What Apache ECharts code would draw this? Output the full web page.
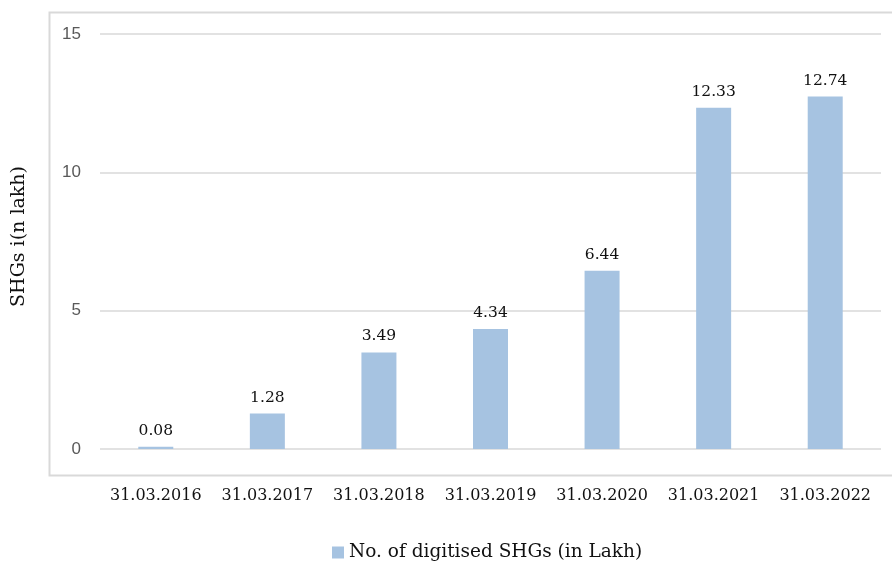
<!DOCTYPE html>
<html>
<head>
<meta charset="utf-8">
<script src="https://cdn.jsdelivr.net/npm/echarts@6/dist/echarts.min.js"></script>
<style>
  html, body { margin: 0; padding: 0; background: #ffffff; }
  #chart { width: 892px; height: 561px; }
</style>
</head>
<body>
<div id="chart"></div>
<script>
// Digitised self-help groups, year-end snapshots (in lakh)
const dates = ['31.03.2016', '31.03.2017', '31.03.2018', '31.03.2019', '31.03.2020', '31.03.2021', '31.03.2022'];
const digitisedSHGs = [0.08, 1.28, 3.49, 4.34, 6.44, 12.33, 12.74];
const seriesName = 'No. of digitised SHGs (in Lakh)';
const yAxisTitle = 'SHGs i(n lakh)';

const serif = '"DejaVu Serif", "Liberation Serif", serif';
const sans = '"Liberation Sans", "Open Sans", sans-serif';

const chart = echarts.init(document.getElementById('chart'), null, { renderer: 'canvas' });

chart.setOption({
  animation: false,
  backgroundColor: '#ffffff',
  graphic: [{
    type: 'rect',
    left: 47,
    top: 10,
    shape: { width: 900, height: 463 },
    style: { fill: 'none', stroke: '#d9d9d9', lineWidth: 2 },
    silent: true,
    z: -1
  }],
  grid: { left: 100, right: 11, top: 34, bottom: 112, containLabel: false },
  legend: {
    top: 538,
    left: 327,
    itemWidth: 12,
    itemHeight: 12,
    itemGap: 8,
    textStyle: { fontFamily: serif, fontSize: 18.5, color: '#111111' },
    data: [{ name: seriesName, icon: 'rect' }]
  },
  xAxis: {
    type: 'category',
    data: dates,
    axisLine: { show: false },
    axisTick: { show: false },
    axisLabel: { interval: 0, fontFamily: serif, fontSize: 16, color: '#111111', margin: 39 }
  },
  yAxis: {
    type: 'value',
    min: 0,
    max: 15,
    interval: 5,
    name: yAxisTitle,
    nameLocation: 'middle',
    nameGap: 71,
    nameTextStyle: { fontFamily: serif, fontSize: 19, color: '#111111', padding: [0, 0, 0, 10] },
    axisLine: { show: false },
    axisTick: { show: false },
    axisLabel: { fontFamily: sans, fontSize: 17, color: '#595959', margin: 19 },
    splitLine: { lineStyle: { color: '#d9d9d9', width: 1.5 } }
  },
  series: [{
    name: seriesName,
    type: 'bar',
    data: digitisedSHGs,
    barWidth: 35,
    itemStyle: { color: '#a6c3e1' },
    label: {
      show: true,
      position: 'top',
      distance: 8,
      fontFamily: serif,
      fontSize: 15.5,
      color: '#111111',
      formatter: p => p.value.toFixed(2)
    }
  }]
});
</script>
</body>
</html>
